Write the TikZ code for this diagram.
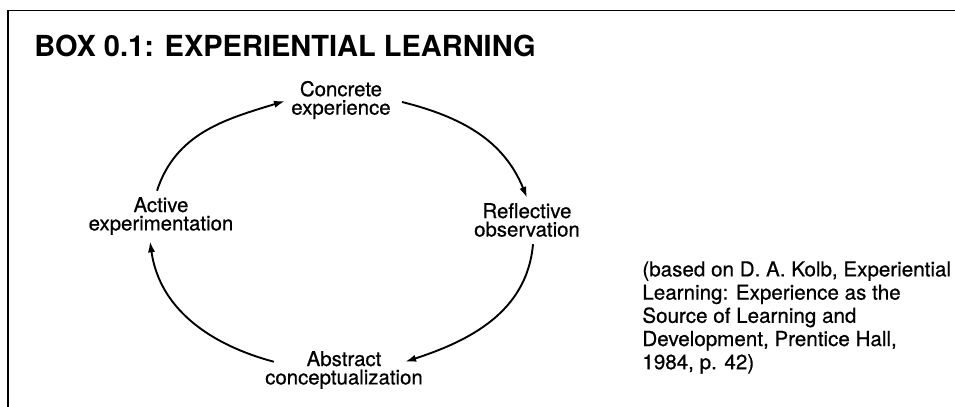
\documentclass[tikz,border=0pt]{standalone}
\usepackage{fontspec}
\setmainfont{TeX Gyre Heros}
\newfontfamily\medfont[FakeBold=0.6]{TeX Gyre Heros}
\usetikzlibrary{arrows.meta}
\begin{document}
\begin{tikzpicture}[x=0.5pt,y=-0.5pt,
  frameline/.style={line width=0.95pt},
  lbl/.style={align=center,inner sep=0pt,font=\medfont\fontsize{10.2}{9.2}\selectfont},
  cyc/.style={line width=0.95pt,-{Latex[length=5.5pt,width=3.6pt]}},
  cite/.style={align=left,inner sep=0pt,anchor=north west,font=\medfont\fontsize{10.3}{11.6}\selectfont}
]
\useasboundingbox (0,0) rectangle (955,407);
\draw[frameline] (8,407) -- (8,10.5) -- (955,10.5);
\node[anchor=base west,inner sep=0pt,font=\fontsize{14.5}{15}\selectfont\bfseries] (title) at (34,56) {BOX 0.1: EXPERIENTIAL LEARNING};
\node[lbl] (con) at (341,100) {Concrete\\experience};
\node[lbl] (ref) at (527,220) {Reflective\\observation};
\node[lbl] (act) at (161,216) {Active\\experimentation};
\node[lbl] (abs) at (344,370) {Abstract\\conceptualization};
\node[cite] (src) at (642,261) {(based on D. A. Kolb, Experiential\\Learning: Experience as the\\Source of Learning and\\Development, Prentice Hall,\\1984, p. 42)};
\draw[cyc] ([shift={(-4,-6)}]act.north) to[out=72,in=197] ([shift={(-6,1)}]con.west);
\draw[cyc] ([shift={(11,2)}]con.east) to[out=-14,in=112] ([shift={(0,-5)}]ref.north);
\draw[cyc] ([shift={(6,7)}]ref.south) to[out=-95,in=18] ([shift={(-18,11)}]abs.north east);
\draw[cyc] ([shift={(9,11)}]abs.north west) to[out=165,in=-82] ([shift={(-11,6)}]act.south);
\end{tikzpicture}
\end{document}
